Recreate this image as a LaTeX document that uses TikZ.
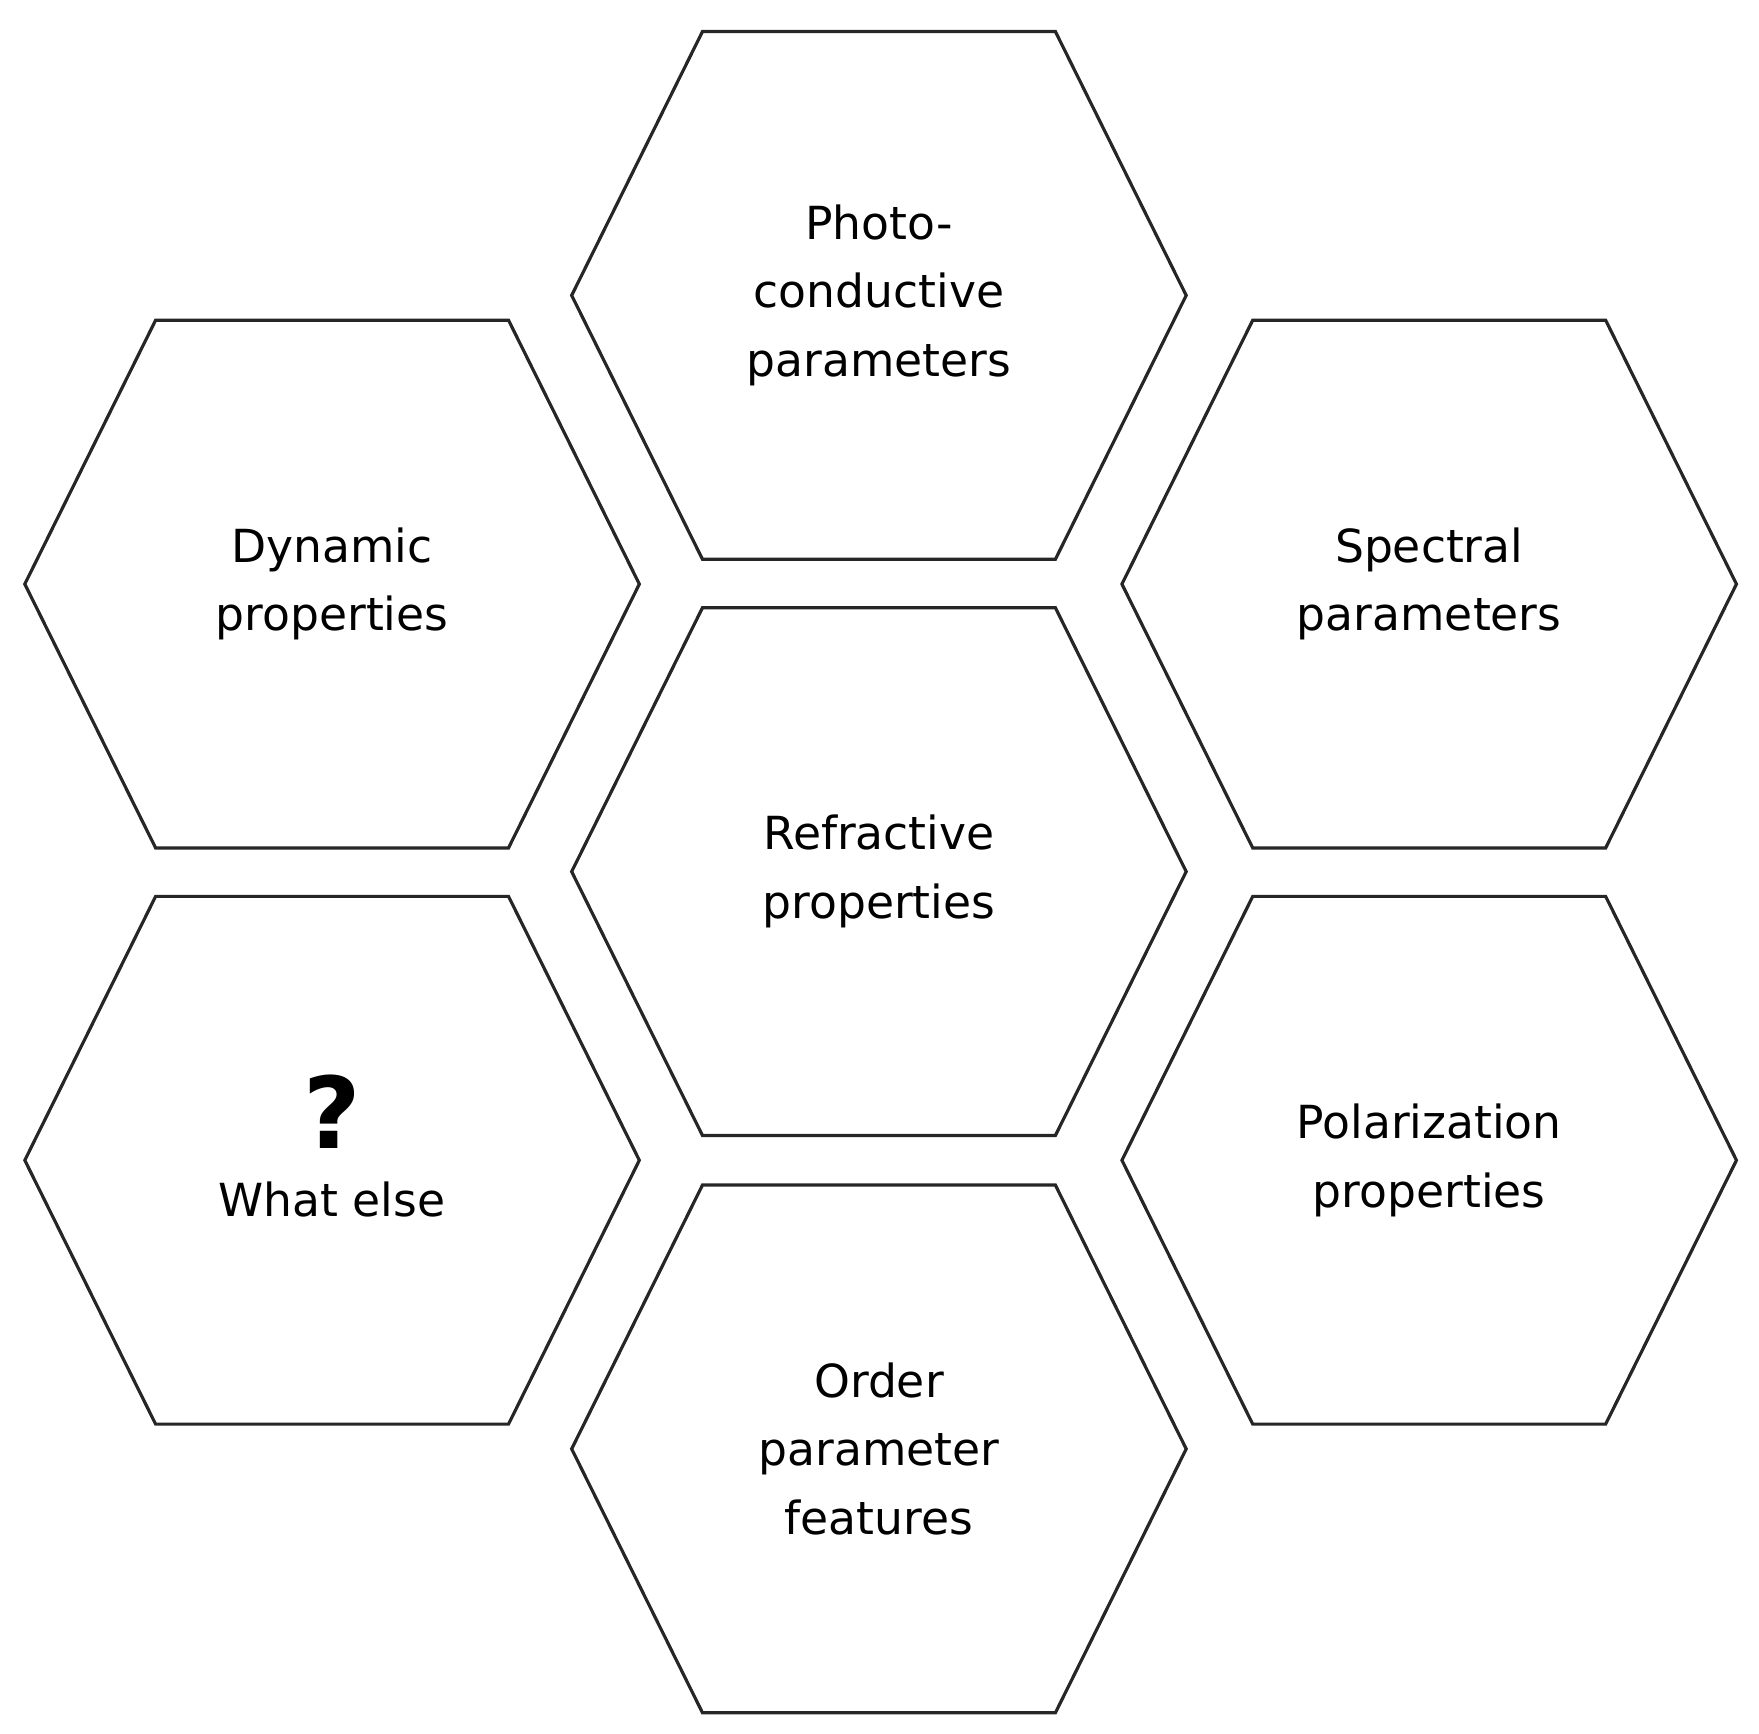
\documentclass[tikz,border=0pt]{standalone}
\usepackage{fontspec}
\setmainfont{DejaVu Sans}
\usetikzlibrary{positioning}

\tikzset{hexline/.style={draw=black!85, line width=0.8pt, line join=miter},
  hexlabel/.style={align=center, font=\fontsize{11.5}{17.3}\selectfont}}

% hexagon with its label at the centre
\newcommand{\hexcell}[3]{%
  \coordinate (#1) at (#2);
  \draw[hexline] ($(#1)+(-272.5,0)$) -- ($(#1)+(-156.5,-234)$) -- ($(#1)+(156.5,-234)$)
    -- ($(#1)+(272.5,0)$) -- ($(#1)+(156.5,234)$) -- ($(#1)+(-156.5,234)$) -- cycle;
  \node[hexlabel] (#1-text) at (#1) {#3};}

\usetikzlibrary{calc}

\begin{document}
\begin{tikzpicture}[x=0.01cm, y=-0.01cm]
\useasboundingbox (0,0) rectangle (1560,1537);

\hexcell{photo}{779.5,262}{Photo-\\conductive\\parameters}
\hexcell{refr}{779.5,773}{Refractive\\properties}
\hexcell{order}{779.5,1285}{Order\\parameter\\features}
\hexcell{dyn}{294.5,518}{Dynamic\\properties}
\hexcell{what}{294.5,1029}{\textbf{\fontsize{25}{25}\selectfont ?}\\[0pt]What else\\[-10pt]\mbox{}}
\hexcell{spec}{1267.5,518}{Spectral\\parameters}
\hexcell{pol}{1267.5,1029}{Polarization\\properties}

\end{tikzpicture}
\end{document}
